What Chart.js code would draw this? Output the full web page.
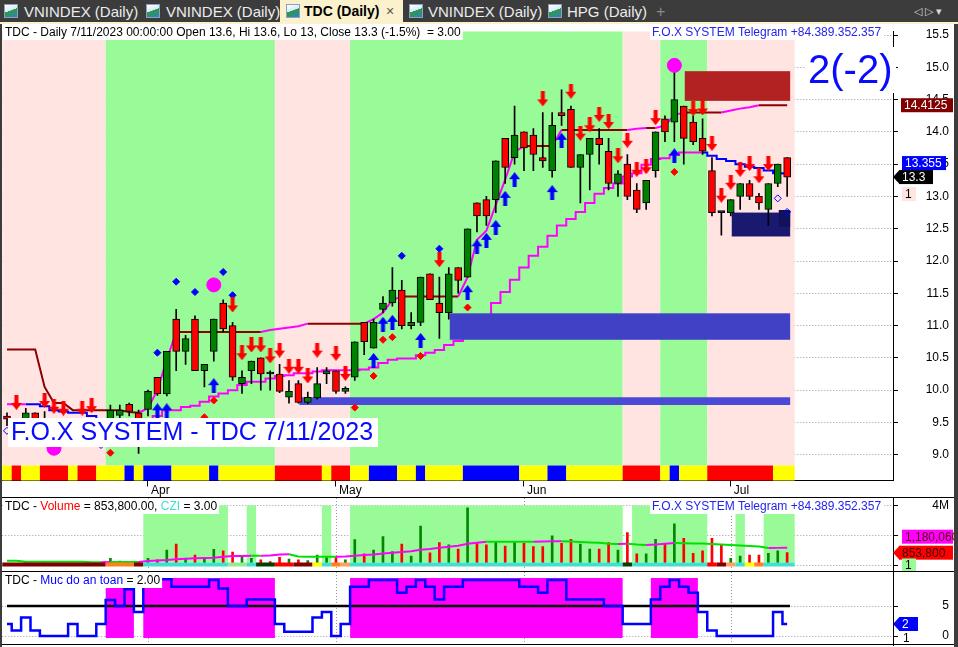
<!DOCTYPE html>
<html>
<head>
<meta charset="utf-8">
<title>TDC (Daily)</title>
<script src="https://cdn.jsdelivr.net/npm/chart.js@4.4.1/dist/chart.umd.min.js"></script>
<style>
  html, body { margin:0; padding:0; width:958px; height:647px; overflow:hidden; background:#3c3c3c; font-family:"Liberation Sans", Arial, sans-serif; }
  #tabline { position:absolute; left:0; top:22px; width:958px; height:2px; background:#fbf1cc; }
  #active { position:absolute; left:280px; top:0; width:123px; height:24px; background:#fbf1cc; }
  .tab { position:absolute; top:0; height:22px; line-height:23px; font-size:15px; color:#ececec; white-space:nowrap; }
  .tab.on { color:#000; font-weight:bold; font-size:14px; }
  .ico { position:absolute; top:4px; width:14px; height:14px; box-sizing:border-box; border:1px solid #8aa3b8;
         background:linear-gradient(160deg,#ffffff 0%,#d4eaff 45%,#2f9a3a 47%,#2f7fd0 100%); }
  canvas { position:absolute; left:0; background:#fff; }
  #leftframe { position:absolute; left:0; top:24px; width:2px; height:623px; background:#3c3c3c; }
</style>
</head>
<body>
<div id="tabline"></div>
<div id="active"></div>
<span class="ico" style="left:4px"></span><span class="tab" style="left:24px">VNINDEX (Daily)</span>
<span class="ico" style="left:146px"></span><span class="tab" style="left:166px">VNINDEX (Daily)</span>
<span class="ico" style="left:286px"></span><span class="tab on" style="left:304px">TDC (Daily)</span>
<span class="tab" style="left:386px;color:#555;font-size:14px">×</span>
<span class="ico" style="left:409px"></span><span class="tab" style="left:428px">VNINDEX (Daily)</span>
<span class="ico" style="left:548px"></span><span class="tab" style="left:567px">HPG (Daily)</span>
<span class="tab" style="left:656px;color:#8a8a8a;font-size:16px">+</span>
<span class="tab" style="left:914px;color:#d8d8d8;font-size:11px">◁ ▷ ▾</span>

<canvas id="price" width="954" height="473" style="top:24px"></canvas>
<canvas id="vol" width="954" height="74" style="top:497px"></canvas>
<canvas id="safe" width="954" height="76" style="top:571px"></canvas>
<div id="leftframe"></div>

<script>
// ---- data ----
const N = 84;
const monthStarts = [15, 35, 55, 77];
const monthNames = ['Apr', 'May', 'Jun', 'Jul'];
const priceTicks = [9, 9.5, 10, 10.5, 11, 11.5, 12, 12.5, 13, 13.5, 14, 14.5, 15, 15.5];
const volTicks = [0, 2, 4];
const safeTicks = [0, 5];

const openP = [9.6,9.5,9.55,9.65,9.55,9.5,9.4,9.45,9.4,9.35,
  9.4,9.55,9.61,9.78,9.65,9.7,10.2,9.94,11.1,10.6,
  11.1,10.3,10.6,11.35,11.0,10.1,10.3,10.5,10.25,10.25,
  9.89,10.1,9.81,9.88,10.25,10.3,9.98,10.2,11.05,10.65,
  11.25,11.35,11.55,11.0,11.05,11.8,11.35,11.2,11.9,11.75,
  12.9,12.95,12.95,13.9,13.6,14.0,13.95,13.6,13.4,14.3,
  14.35,13.45,13.65,13.9,13.7,13.2,13.5,13.1,12.9,13.4,
  14.2,14.15,14.4,14.15,13.9,13.4,12.75,12.75,13.0,13.2,
  13.0,12.8,13.2,13.6];
const highP = [9.65,9.55,9.72,9.65,9.67,9.55,9.5,9.5,9.5,9.45,
  9.5,9.77,9.77,9.8,9.69,10.0,10.2,10.6,11.25,10.85,
  11.15,10.4,11.1,11.4,11.05,10.3,10.45,10.5,10.3,10.4,
  10.15,10.15,9.97,10.35,10.35,10.3,10.05,10.75,11.05,11.1,
  11.45,11.9,11.7,11.2,11.75,11.8,11.75,11.9,11.9,12.5,
  12.9,13.0,13.55,13.9,14.4,14.0,14.05,14.3,14.3,14.65,
  14.4,13.65,13.9,14.05,13.9,13.4,13.65,13.2,13.25,14.0,
  14.25,14.95,14.4,14.25,14.2,13.6,12.75,12.95,13.2,13.25,
  13.05,13.2,13.5,13.6];
const lowP = [9.45,9.4,9.5,9.45,9.4,9.35,9.3,9.35,9.3,9.25,
  9.3,9.45,9.55,9.6,9.02,9.6,9.92,9.91,10.3,10.4,
  10.3,10.05,10.45,10.9,10.15,9.95,10.1,10.0,10.0,9.96,
  9.8,9.8,9.79,9.86,10.1,9.95,9.95,10.15,10.55,10.65,
  11.2,11.3,10.95,10.95,11.0,11.4,10.8,11.1,11.5,11.75,
  12.45,12.55,12.75,13.2,13.5,13.4,13.4,13.45,13.3,14.1,
  13.45,12.9,13.1,13.5,13.1,13.0,12.95,12.75,12.8,13.3,
  13.85,13.85,13.5,13.8,13.65,12.7,12.4,12.7,12.8,12.95,
  12.8,12.55,13.15,13.0];
const closeP = [9.55,9.45,9.65,9.5,9.45,9.4,9.45,9.4,9.35,9.4,
  9.45,9.69,9.69,9.67,9.5,9.98,9.94,10.6,10.6,10.8,
  10.3,10.4,11.1,10.95,10.2,10.2,10.45,10.25,10.25,9.98,
  9.98,9.81,9.89,10.1,10.3,9.98,10.03,10.75,10.75,11.05,
  11.35,11.55,11.0,11.05,11.75,11.4,11.2,11.8,11.7,12.5,
  12.7,12.7,13.55,13.45,13.95,13.75,13.65,13.55,14.1,14.25,
  13.45,13.65,13.9,13.8,13.2,13.35,13.0,12.8,13.25,14.0,
  14.0,14.5,13.9,13.85,13.7,12.75,12.75,12.95,13.2,13.0,
  12.9,13.2,13.5,13.3];

// trailing lines
const upperStop = [10.63,10.63,10.63,10.63,10.05,9.8,9.8,9.69,9.69,9.69,
  9.69,9.69,9.69,9.66,9.65,9.72,10.0,10.47,10.9,10.9,
  10.9,10.9,10.9,10.9,10.9,10.9,10.9,10.9,10.93,10.95,
  10.97,10.99,11.03,11.03,11.03,11.03,11.03,11.03,11.03,11.1,
  11.2,11.4,11.45,11.45,11.45,11.45,11.45,11.45,11.45,11.75,
  12.33,12.47,12.87,13.26,13.69,13.78,13.78,13.78,13.78,14.03,
  14.03,14.03,14.03,14.03,14.03,14.03,14.03,14.05,14.06,14.06,
  14.1,14.26,14.3,14.3,14.3,14.3,14.3,14.33,14.36,14.38,
  14.4125,14.4125,14.4125,14.4125];
const lowerStopUp = [9.78,9.78,9.78,null,null,null,null,null,null,null,
  null,null,null,null,9.55,9.55,9.6,9.69,9.69,9.74,
  9.76,9.82,9.9,9.95,10.0,10.08,10.13,10.13,10.18,10.22,
  10.23,10.26,10.26,10.29,10.31,10.31,10.31,10.31,10.32,10.35,
  10.42,10.47,10.49,10.49,10.54,10.58,10.62,10.70,10.76,10.85,
  10.96,11.09,11.35,11.52,11.71,11.90,12.08,12.22,12.39,12.55,
  12.65,12.76,12.90,13.04,13.13,13.20,13.31,13.36,13.49,13.58,
  13.59,13.64,13.68,13.68,13.68,null,null,null,null,null,
  null,null,null,null];
const lowerStopDown = [null,null,9.78,9.78,9.75,9.69,9.67,9.65,9.65,9.6,
  9.55,9.5,9.5,9.5,null,null,null,null,null,null,
  null,null,null,null,null,null,null,null,null,null,
  null,null,null,null,null,null,null,null,null,null,
  null,null,null,null,null,null,null,null,null,null,
  null,null,null,null,null,null,null,null,null,null,
  null,null,null,null,null,null,null,null,null,null,
  null,null,null,null,13.68,13.63,13.58,13.55,13.5,13.46,
  13.44,13.4,13.36,13.355];

// background state per bar: p = pink, g = green
const priceZone = ('ppppppppppp' + 'gggggggggggggggggg' + 'pppppppp' +
  'ggggggggggggggggggggggggggggg' + 'pppp' + 'ggggg' + 'ppppppppp').split('');
// bottom signal strip: Y yellow, R red, B blue
const signalStrip = ('Y' + 'R' + 'YY' + 'RRR' + 'Y' + 'RR' + 'YYY' + 'B' + 'Y' + 'BBB' + 'YYYY' + 'B' +
  'YYYYYY' + 'RRRRR' + 'Y' + 'RR' + 'YY' + 'BBB' + 'YY' + 'B' + 'YYYY' + 'BBBBBB' + 'YYY' + 'BB' +
  'YYYYYY' + 'RRRR' + 'Y' + 'B' + 'YYY' + 'RRRRRRR' + 'YY').split('');

// signals
const sellBars = [1,4,5,6,8,9,24,25,26,27,28,29,30,31,32,33,35,36,46,57,60,61,62,63,64,65,66,67,68,69,73,74,75,76,77,78,79,80,81];
const sellAt = [9.81,9.84,9.75,9.72,9.72,9.76,11.32,10.58,10.70,10.70,10.53,10.62,10.37,10.37,10.22,10.62,10.57,10.26,12.02,14.51,14.63,13.98,14.11,14.27,14.16,13.63,13.87,13.42,13.46,14.22,14.36,14.37,13.82,13.02,13.22,13.42,13.51,13.32,13.51];
const buyBars = [16,17,22,39,40,41,44,49,50,51,52,53,54,58,59,71];
const buyAt = [9.68,9.68,10.07,10.46,11.02,11.05,10.77,11.51,12.22,12.32,12.52,12.97,13.26,13.06,13.87,13.63];
const redDotBars = [11,21,22,37,39,40,41,44,49,71];
const redDotAt = [9.03,9.58,9.84,9.73,10.22,10.78,10.82,10.53,11.28,13.38];
const blueDotBars = [16,18,20,23,24,42,46];
const blueDotAt = [10.58,11.68,11.52,11.83,11.47,12.08,12.19];
const hollowBars = [0,10,82,83];
const hollowAt = [9.37,9.15,12.97,12.76];
const peakBars = [5,22,71];
const peakAt = [9.10,11.63,15.03];

// price zones: [first bar, last bar], low, high
const zoneBars = [[47,83],[31,83],[77,83],[82,83],[72,83]];
const zoneLow = [10.78, 9.77, 12.38, 12.53, 14.48];
const zoneHigh = [11.19, 9.89, 12.75, 12.79, 14.94];

// volume panel (millions)
const volumeM = [0.15,0.12,0.2,0.15,0.18,0.12,0.15,0.1,0.15,0.12,
  0.18,0.48,0.3,0.25,0.25,0.48,0.37,1.03,1.43,0.43,
  0.70,0.52,1.08,0.97,0.9,0.63,0.48,0.37,0.26,0.54,
  0.43,0.37,0.32,0.70,0.52,0.52,0.37,1.73,0.77,1.03,
  1.92,0.92,1.43,0.63,2.63,0.85,1.52,1.37,1.1,3.85,
  1.48,1.37,1.59,1.30,1.59,1.48,1.26,1.26,1.97,1.48,
  1.74,1.43,1.10,1.10,1.52,1.03,2.19,0.77,0.77,1.74,
  1.48,2.77,1.81,0.81,0.97,1.81,1.37,0.48,0.63,0.70,
  0.70,0.81,0.97,0.8538];
const volumeMA = [0.32,0.32,0.25,0.25,0.25,0.25,0.25,0.25,0.25,0.22,
  0.21,0.23,0.23,0.23,0.23,0.3,0.34,0.37,0.42,0.45,
  0.48,0.5,0.52,0.58,0.63,0.64,0.65,0.65,0.66,0.74,
  0.75,0.6,0.59,0.59,0.58,0.58,0.6,0.65,0.7,0.74,
  0.8,0.85,0.9,0.95,1.05,1.1,1.18,1.25,1.32,1.45,
  1.52,1.59,1.59,1.59,1.59,1.59,1.59,1.6,1.61,1.62,
  1.6,1.57,1.54,1.51,1.45,1.43,1.45,1.4,1.37,1.4,
  1.45,1.5,1.48,1.47,1.46,1.43,1.4,1.37,1.33,1.3,
  1.27,1.17,1.175,1.18006];
// CZI state per bar
const cziState = ('ddddddddddd' + 'ooo' + 'd' + 'ccccccccc' + 'll' + 'c' + 'gg' + 'rr' + 'dd' + 'y' + 'c' + 'o' + 'p' +
  'ccccccccccccccccccccccccccccc' + 'g' + 'cccccccc' + 'r' + 'd' + 'p' + 'c' + 'y' + 'o' + 'ccc').split('');

// safety level panel
const safety = [2,0.9,3.1,0.9,0,0,0,2,0,0,
  2,6,5,7.8,4,9.45,9.45,9.45,8.2,8.2,
  8.2,8.2,9.33,7.9,5,5,6.1,6.1,6.1,2,
  0.7,0.7,0.7,3.1,4,0,2,8.2,8.2,9.33,
  9.33,9.33,7.2,8.2,9.33,8.2,6.1,8.2,8.2,9.33,
  9.33,9.33,9.33,9.33,9.33,8.2,8.2,7.2,9.33,9.33,
  6.1,6.1,6.1,6.1,5,5,2,2,2,6.1,
  8.2,9.33,8.2,7.2,4,0.9,0,0,0,0,
  0,0,4,2];
const safeLevel = 5;

// ---- styles ----
const FONT = '"Liberation Sans", Arial, sans-serif';
Chart.defaults.font.family = FONT;
Chart.defaults.font.size = 12;
Chart.defaults.color = '#000';
const zoneColor = { p: '#FFE4E1', g: '#98FB98' };
const stripColor = { Y: '#FFFF00', R: '#FF0000', B: '#0000FF' };
const cziColor = { d: '#800000', o: '#FF8020', c: '#40E0D0', l: '#90EE90', g: '#004000', r: '#FF0000', y: '#FFFF00', p: '#FFA060' };
const zoneFill = ['#4141C6', '#4A4AD6', '#191970', '#11115C', '#B22222'];
const MAROON = '#8B0000', MAGENTA = '#FF00FF', BLUE = '#0000FF';
const L = N - 1;
const idx = [...Array(N).keys()];
const XMIN = -0.5, XMAX = 94.26;

function runsOf(arr) {
  const out = [];
  let s = 0;
  for (let i = 1; i <= arr.length; i++) {
    if (i === arr.length || arr[i] !== arr[s]) { out.push({ s: s, e: i - 1, v: arr[s] }); s = i; }
  }
  return out;
}
function spanPx(x, s, e) {
  const l = x.getPixelForValue(s - 0.5);
  const r = x.getPixelForValue(e === L ? e + 0.8 : e + 0.5);
  return [l, r];
}
function segs(ctx, x, y, parts, bg) {
  ctx.font = '12px ' + FONT;
  ctx.textBaseline = 'middle';
  ctx.textAlign = 'left';
  let w = 0;
  parts.forEach(p => { w += ctx.measureText(p[0]).width; });
  if (bg) { ctx.fillStyle = '#fff'; ctx.fillRect(x - 2, y - 7, w + 4, 14); }
  parts.forEach(p => { ctx.fillStyle = p[1]; ctx.fillText(p[0], x, y); x += ctx.measureText(p[0]).width; });
}
function tag(ctx, text, x1, x2, yc, bg, fg, arrow) {
  ctx.fillStyle = bg;
  ctx.fillRect(x1, yc - 7, x2 - x1, 14);
  if (arrow) {
    ctx.beginPath(); ctx.moveTo(x1 + 0.5, yc - 7); ctx.lineTo(x1 - 6, yc); ctx.lineTo(x1 + 0.5, yc + 7); ctx.closePath(); ctx.fill();
  }
  ctx.font = '12px ' + FONT;
  ctx.fillStyle = fg; ctx.textAlign = 'left'; ctx.textBaseline = 'middle';
  ctx.fillText(text, x1 + 3, yc + 0.5);
}
function monthLines(ctx, x, a) {
  ctx.save();
  ctx.strokeStyle = '#999'; ctx.lineWidth = 1; ctx.setLineDash([1, 2]);
  monthStarts.forEach(m => {
    const px = Math.round(x.getPixelForValue(m)) + 0.5;
    ctx.beginPath(); ctx.moveTo(px, a.top); ctx.lineTo(px, a.bottom); ctx.stroke();
  });
  ctx.restore();
}
function hLine(ctx, y, x1, x2) {
  ctx.save(); ctx.strokeStyle = '#000'; ctx.lineWidth = 1;
  ctx.beginPath(); ctx.moveTo(x1, y); ctx.lineTo(x2, y); ctx.stroke(); ctx.restore();
}
function makeArrow(color, up) {
  const c = document.createElement('canvas');
  c.width = 11; c.height = 15;
  const g = c.getContext('2d');
  g.fillStyle = color;
  g.beginPath();
  if (up) {
    g.moveTo(5.5, 0); g.lineTo(11, 7); g.lineTo(7.5, 7); g.lineTo(7.5, 15); g.lineTo(3.5, 15); g.lineTo(3.5, 7); g.lineTo(0, 7);
  } else {
    g.moveTo(3.5, 0); g.lineTo(7.5, 0); g.lineTo(7.5, 8); g.lineTo(11, 8); g.lineTo(5.5, 15); g.lineTo(0, 8); g.lineTo(3.5, 8);
  }
  g.closePath(); g.fill();
  return c;
}
const sellArrow = makeArrow('#FF0000', false);
const buyArrow = makeArrow('#0000FF', true);

function rightAxis(min, max, ticks, cb) {
  return {
    position: 'right', min: min, max: max,
    afterBuildTicks: s => { s.ticks = ticks.map(v => ({ value: v })); },
    afterFit: s => { s.width = 56; s.paddingTop = 0; s.paddingBottom = 0; },
    ticks: { callback: cb, crossAlign: 'far', color: '#000', font: { size: 12 }, padding: 2 },
    grid: { color: '#9a9a9a', tickColor: '#000', tickLength: 5, lineWidth: 1, offset: false },
    border: { color: '#000', width: 1, dash: [1, 2] }
  };
}
const hiddenX = { type: 'linear', min: XMIN, max: XMAX, offset: false, display: false };
const baseOpts = { responsive: false, animation: false, devicePixelRatio: 1, events: [],
  plugins: { legend: { display: false }, tooltip: { enabled: false } } };

// ---- price panel ----
const candleColor = idx.map(i => closeP[i] > openP[i] ? '#008000' : closeP[i] < openP[i] ? '#FF0000' : '#000');
const pts = (bars, vals) => bars.map((b, k) => ({ x: b, y: vals[k] }));
const line = arr => arr.map((v, i) => ({ x: i, y: v }));

const pricePanel = {
  id: 'pricePanel',
  beforeDatasetsDraw(chart) {
    const { ctx, chartArea: a, scales: { x } } = chart;
    const stripTop = a.bottom - 15;
    ctx.save();
    runsOf(priceZone).forEach(r => {
      const [l, rr] = spanPx(x, r.s, r.e);
      ctx.fillStyle = zoneColor[r.v]; ctx.fillRect(l, a.top, rr - l, stripTop - a.top);
    });
    runsOf(signalStrip).forEach(r => {
      const [l, rr] = spanPx(x, r.s, r.e);
      ctx.fillStyle = stripColor[r.v]; ctx.fillRect(l, stripTop, rr - l, a.bottom - stripTop);
    });
    ctx.restore();
  },
  beforeDatasetDraw(chart, args) {
    if (chart.data.datasets[args.index].label !== 'wick') return;
    const { ctx, scales: { x, y } } = chart;
    ctx.save();
    zoneBars.forEach((b, k) => {
      const l = x.getPixelForValue(b[0]) + 1, r = x.getPixelForValue(b[1]) + 3;
      const t = y.getPixelForValue(zoneHigh[k]), bt = y.getPixelForValue(zoneLow[k]);
      ctx.fillStyle = zoneFill[k]; ctx.fillRect(l, t, r - l, bt - t);
    });
    ctx.restore();
  },
  afterDraw(chart) {
    const { ctx, scales: { y } } = chart;
    ctx.save();
    const pct = ((closeP[L] - closeP[L - 1]) / closeP[L - 1] * 100).toFixed(1);
    const f = v => String(+v.toFixed(2));
    segs(ctx, 5, 9, [['TDC - Daily 7/11/2023 00:00:00 Open ' + f(openP[L]) + ', Hi ' + f(highP[L]) + ', Lo ' + f(lowP[L]) +
      ', Close ' + f(closeP[L]) + ' (' + pct + '%)  = 3.00', '#000']], true);
    segs(ctx, 652, 9, [['F.O.X SYSTEM Telegram +84.389.352.357', '#2424ee']], true);
    // watermark
    ctx.font = '25px ' + FONT;
    ctx.fillStyle = '#fff'; ctx.fillRect(8, 394, 370, 29);
    ctx.fillStyle = '#0a0aff'; ctx.textBaseline = 'middle'; ctx.textAlign = 'left';
    ctx.fillText('F.O.X SYSTEM - TDC 7/11/2023', 11, 409);
    ctx.font = '40px ' + FONT;
    ctx.fillStyle = '#fff'; ctx.fillRect(806, 23, 90, 46);
    ctx.fillStyle = '#0a0aff';
    ctx.fillText('2(-2)', 808, 48);
    // value tags
    tag(ctx, String(upperStop[L]), 901, 953, y.getPixelForValue(upperStop[L]), '#800000', '#fff', false);
    const yc = y.getPixelForValue(closeP[L]);
    tag(ctx, String(lowerStopDown[L]), 902, 946, yc - 14, '#0000FF', '#fff', false);
    tag(ctx, String(closeP[L]), 899, 933, yc, '#000', '#fff', true);
    tag(ctx, '1', 902, 916, yc + 17, '#FFE4E1', '#000', false);
    ctx.restore();
  }
};

new Chart(document.getElementById('price'), {
  type: 'bar',
  data: { datasets: [
    { label: 'sell', type: 'line', showLine: false, data: pts(sellBars, sellAt), pointStyle: sellArrow, pointRadius: 6, order: 1 },
    { label: 'buy', type: 'line', showLine: false, data: pts(buyBars, buyAt), pointStyle: buyArrow, pointRadius: 6, order: 1 },
    { label: 'peak', type: 'line', showLine: false, data: pts(peakBars, peakAt), pointStyle: 'circle', pointRadius: 7,
      pointBackgroundColor: MAGENTA, pointBorderColor: MAGENTA, order: 1 },
    { label: 'reddot', type: 'line', showLine: false, data: pts(redDotBars, redDotAt), pointStyle: 'rectRot', pointRadius: 3.5,
      pointBackgroundColor: '#FF0000', pointBorderColor: '#FF0000', order: 1 },
    { label: 'bluedot', type: 'line', showLine: false, data: pts(blueDotBars, blueDotAt), pointStyle: 'rectRot', pointRadius: 3.5,
      pointBackgroundColor: BLUE, pointBorderColor: BLUE, order: 1 },
    { label: 'hollow', type: 'line', showLine: false, data: pts(hollowBars, hollowAt), pointStyle: 'rectRot', pointRadius: 3.5,
      pointBackgroundColor: 'rgba(0,0,0,0)', pointBorderColor: BLUE, pointBorderWidth: 1, order: 1 },
    { label: 'body', data: idx.map(i => ({ x: i, y: [openP[i], closeP[i]] })), backgroundColor: candleColor,
      borderColor: '#000', borderWidth: 1, borderSkipped: false, barThickness: 7, minBarLength: 2, grouped: false, order: 3 },
    { label: 'wick', data: idx.map(i => ({ x: i, y: [lowP[i], highP[i]] })), backgroundColor: '#000',
      barThickness: 1, grouped: false, order: 4 },
    { label: 'upper', type: 'line', data: line(upperStop), borderWidth: 2, pointRadius: 0, order: 6,
      segment: { borderColor: c => c.p1.parsed.y > c.p0.parsed.y ? MAGENTA : MAROON } },
    { label: 'lowerUp', type: 'line', data: line(lowerStopUp), borderColor: MAGENTA, borderWidth: 2, pointRadius: 0,
      stepped: 'middle', spanGaps: false, order: 6 },
    { label: 'lowerDown', type: 'line', data: line(lowerStopDown), borderColor: BLUE, borderWidth: 2, pointRadius: 0,
      stepped: 'middle', spanGaps: false, order: 6 }
  ] },
  options: Object.assign({}, baseOpts, {
    layout: { autoPadding: false, padding: { left: 2.3, right: 5, top: 7.5, bottom: 0 } },
    scales: {
      x: {
        type: 'linear', min: XMIN, max: XMAX, offset: false,
        afterBuildTicks: s => { s.ticks = monthStarts.map(v => ({ value: v })); },
        afterFit: s => { s.height = 16.5; s.paddingLeft = 0; s.paddingRight = 0; },
        ticks: { callback: v => { const k = monthStarts.indexOf(v); return k < 0 ? '' : monthNames[k]; },
          align: 'start', labelOffset: 3, padding: -3, autoSkip: false, maxRotation: 0, color: '#000', font: { size: 12 } },
        grid: { drawOnChartArea: false, drawTicks: true, tickLength: 6, tickColor: '#000', offset: false },
        border: { color: '#000' }
      },
      y: rightAxis(8.6007, 15.5544, priceTicks, v => v.toFixed(1))
    }
  }),
  plugins: [pricePanel]
});

// ---- volume panel ----
const volColor = idx.map(i => closeP[i] > openP[i] ? '#008800' : '#FF0000');
const volPanel = {
  id: 'volPanel',
  beforeDatasetsDraw(chart) {
    const { ctx, chartArea: a, scales: { x, y } } = chart;
    monthLines(ctx, x, a);
    const top = y.getPixelForValue(4), base = y.getPixelForValue(0);
    ctx.save();
    runsOf(cziState).forEach(r => {
      if (r.v !== 'c') return;
      const [l, rr] = spanPx(x, r.s, r.e);
      ctx.fillStyle = '#98FB98'; ctx.fillRect(l, top, rr - l, base - 3 - top);
    });
    ctx.restore();
  },
  afterDatasetsDraw(chart) {
    const { ctx, scales: { x, y } } = chart;
    const base = y.getPixelForValue(0);
    ctx.save();
    runsOf(cziState).forEach(r => {
      const [l, rr] = spanPx(x, r.s, r.e);
      ctx.fillStyle = cziColor[r.v]; ctx.fillRect(l, base - 3, rr - l, 4);
    });
    ctx.restore();
  },
  afterDraw(chart) {
    const { ctx, scales: { y } } = chart;
    ctx.save();
    hLine(ctx, 0.5, 0, 954);
    const vTxt = Math.round(volumeM[L] * 1e6).toLocaleString('en-US', { minimumFractionDigits: 2 });
    segs(ctx, 5, 10, [['TDC - ', '#000'], ['Volume', '#FF0000'], [' = ' + vTxt + ', ', '#000'], ['CZI', '#40E0D0'], [' = 3.00', '#000']], true);
    segs(ctx, 652, 10, [['F.O.X SYSTEM Telegram +84.389.352.357', '#2424ee']], true);
    const yv = y.getPixelForValue(volumeM[L]);
    tag(ctx, Math.round(volumeMA[L] * 1e6).toLocaleString('en-US'), 902, 953, yv - 16, MAGENTA, '#5a0000', false);
    tag(ctx, Math.round(volumeM[L] * 1e6).toLocaleString('en-US'), 899, 953, yv, '#FF0000', '#400000', true);
    tag(ctx, '1', 902, 916, y.getPixelForValue(0), '#98FB98', '#000', false);
    ctx.restore();
  }
};
new Chart(document.getElementById('vol'), {
  type: 'bar',
  data: { datasets: [
    { label: 'ma', type: 'line', data: line(volumeMA), borderWidth: 2, pointRadius: 0, order: 1,
      segment: { borderColor: c => c.p1.parsed.y > c.p0.parsed.y ? MAGENTA : '#00E000' } },
    { label: 'volume', data: idx.map(i => ({ x: i, y: volumeM[i] })), backgroundColor: volColor,
      barThickness: 2, grouped: false, order: 2 }
  ] },
  options: Object.assign({}, baseOpts, {
    layout: { autoPadding: false, padding: { left: 2.3, right: 5, top: 1, bottom: 1 } },
    scales: { x: hiddenX, y: rightAxis(-0.3, 4.5, volTicks, v => v === 4 ? '4M' : '') }
  }),
  plugins: [volPanel]
});

// ---- safety panel ----
const safePanel = {
  id: 'safePanel',
  beforeDatasetsDraw(chart) {
    const { ctx, chartArea: a, scales: { x, y } } = chart;
    monthLines(ctx, x, a);
    ctx.save();
    const t = y.getPixelForValue(9.67), b = y.getPixelForValue(-0.33);
    runsOf(safety.map(v => v >= safeLevel)).forEach(r => {
      if (!r.v) return;
      const [l, rr] = spanPx(x, r.s, r.e);
      ctx.fillStyle = MAGENTA; ctx.fillRect(l, t, rr - l, b - t);
    });
    ctx.strokeStyle = '#000'; ctx.lineWidth = 2.5;
    const yl = y.getPixelForValue(safeLevel);
    ctx.beginPath(); ctx.moveTo(x.getPixelForValue(0), yl); ctx.lineTo(x.getPixelForValue(L + 0.3), yl); ctx.stroke();
    ctx.restore();
  },
  afterDraw(chart) {
    const { ctx, scales: { y } } = chart;
    ctx.save();
    hLine(ctx, 0.5, 0, 954);
    hLine(ctx, 73.5, 0, 954);
    segs(ctx, 5, 10, [['TDC - ', '#000'], ['Muc do an toan', BLUE], [' = ' + safety[L].toFixed(2), '#000']], true);
    const ys = y.getPixelForValue(safety[L]);
    tag(ctx, String(safety[L]), 899, 918, ys, BLUE, '#fff', true);
    ctx.font = '12px ' + FONT; ctx.fillStyle = '#000'; ctx.textBaseline = 'middle';
    ctx.fillText('1', 903, ys + 15);
    ctx.restore();
  }
};
new Chart(document.getElementById('safe'), {
  type: 'line',
  data: { datasets: [
    { label: 'safety', data: line(safety), borderColor: BLUE, borderWidth: 2.5, pointRadius: 0, stepped: 'middle' }
  ] },
  options: Object.assign({}, baseOpts, {
    layout: { autoPadding: false, padding: { left: 2.3, right: 5, top: 1, bottom: 2 } },
    scales: { x: hiddenX, y: rightAxis(-1.5, 10.6667, safeTicks, v => String(v)) }
  }),
  plugins: [safePanel]
});
</script>
</body>
</html>
